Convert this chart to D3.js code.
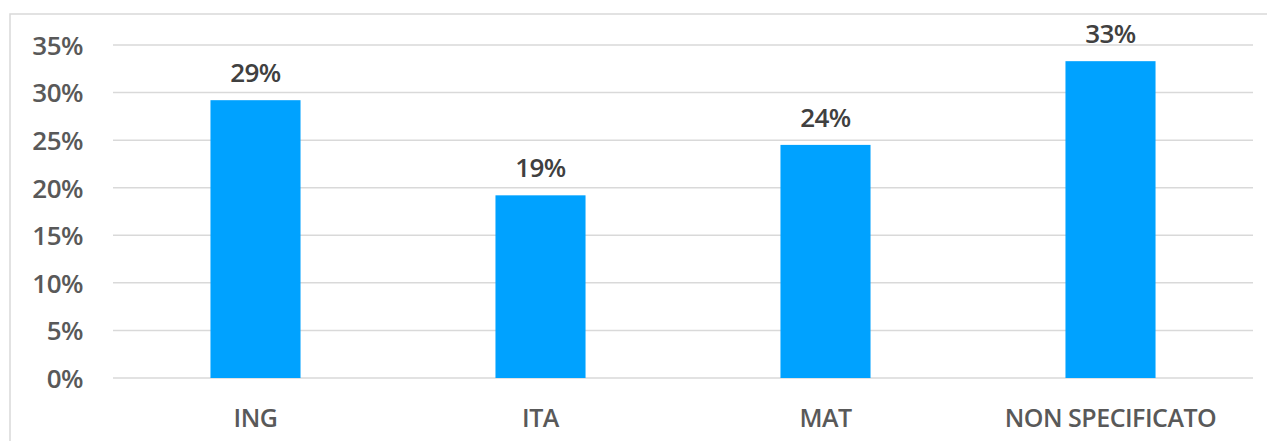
<!DOCTYPE html>
<html>
<head>
<meta charset="utf-8">
<script src="https://cdn.jsdelivr.net/npm/d3@7"></script>
<style>
  html, body { margin: 0; padding: 0; background: #fff; }
  svg { display: block; font-family: "Open Sans", sans-serif; }
</style>
</head>
<body>
<svg id="chart" width="1267" height="441"></svg>
<script>
const categories = ["ING", "ITA", "MAT", "NON SPECIFICATO"];
const values = [0.292, 0.192, 0.245, 0.333];
const valueLabels = ["29%", "19%", "24%", "33%"];
const tickValues = [0, 0.05, 0.10, 0.15, 0.20, 0.25, 0.30, 0.35];

const svg = d3.select("#chart");
const W = 1267, H = 441;
const plot = { left: 113, right: 1253, top: 45, bottom: 378 };

// chart frame
svg.append("rect")
  .attr("x", 10).attr("y", 14)
  .attr("width", W + 20).attr("height", H + 20)
  .attr("fill", "none").attr("stroke", "#d9d9d9").attr("stroke-width", 1.5);

const x = d3.scaleBand().domain(categories)
  .range([plot.left, plot.right]).paddingInner(0.684).paddingOuter(0.342);
const y = d3.scaleLinear().domain([0, 0.35]).range([plot.bottom, plot.top]);

// gridlines
svg.append("g").selectAll("line").data(tickValues).join("line")
  .attr("x1", plot.left).attr("x2", plot.right)
  .attr("y1", d => y(d)).attr("y2", d => y(d))
  .attr("stroke", "#d9d9d9").attr("stroke-width", 1.5);

// y axis labels
const yAxis = d3.axisLeft(y).tickValues(tickValues).tickFormat(d3.format(".0%")).tickSize(0).tickPadding(0);
const yg = svg.append("g").attr("transform", `translate(83,0)`).call(yAxis);
yg.select(".domain").remove();
yg.selectAll("text").attr("font-size", 26).attr("font-weight", 600).attr("fill", "#595959")
  .attr("font-family", "'Open Sans', sans-serif").attr("dy", "0.36em").attr("letter-spacing", "-0.5px");

// bars
svg.append("g").selectAll("rect").data(values).join("rect")
  .attr("x", (d, i) => x(categories[i]))
  .attr("width", x.bandwidth())
  .attr("y", d => y(d))
  .attr("height", d => y(0) - y(d))
  .attr("fill", "#00a2ff");

// data labels
svg.append("g").selectAll("text").data(values).join("text")
  .attr("x", (d, i) => x(categories[i]) + x.bandwidth() / 2)
  .attr("y", d => y(d) - 18)
  .attr("text-anchor", "middle")
  .attr("font-size", 26).attr("font-weight", 600).attr("fill", "#404040")
  .attr("letter-spacing", "-0.5px")
  .text((d, i) => valueLabels[i]);

// x axis labels
const xAxis = d3.axisBottom(x).tickSize(0).tickPadding(0);
const xg = svg.append("g").attr("transform", `translate(0,${plot.bottom + 49})`).call(xAxis);
xg.select(".domain").remove();
xg.selectAll("text").attr("font-size", 25).attr("font-weight", 600).attr("fill", "#595959")
  .attr("font-family", "'Open Sans', sans-serif").attr("dy", 0).attr("letter-spacing", "-0.5px");
</script>
</body>
</html>
